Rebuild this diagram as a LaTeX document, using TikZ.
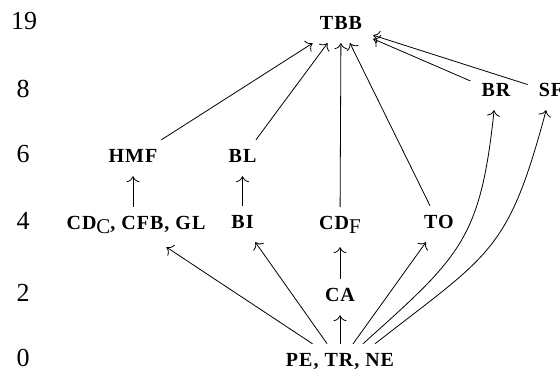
\documentclass[tikz,border=0pt]{standalone}
\usepackage{fontspec}
\setmainfont{Liberation Serif}
\newfontfamily\lblfont[LetterSpace=5]{Liberation Serif}
\usetikzlibrary{arrows.meta}
\newcommand{\subC}[1]{\raisebox{-4pt}{\fontsize{21}{21}\selectfont\mdseries #1}}
\begin{document}
\begin{tikzpicture}[x=1pt,y=1pt,
  lbl/.style={font=\fontsize{20}{20}\selectfont\lblfont\bfseries, anchor=base,
    inner xsep=11pt, inner ysep=9pt, text height=14pt, text depth=4pt},
  deep/.style={text depth=8pt},
  num/.style={font=\fontsize{26}{26}\selectfont, anchor=base, inner sep=0pt},
  arr/.style={-{To[length=6pt,width=13pt]}, line width=0.8pt}]
\useasboundingbox (0,0) rectangle (560,372);
% level numbers
\node[num] (l19) at (24,342) {19};
\node[num] (l8)  at (23,274) {8};
\node[num] (l6)  at (23,209) {6};
\node[num] (l4)  at (23,142) {4};
\node[num] (l2)  at (23,70)  {2};
\node[num] (l0)  at (23,5)   {0};
% nodes
\node[lbl] (tbb) at (341,342) {TBB};
\node[lbl] (br)  at (496,275) {BR};
\node[lbl] (sf)  at (551,275) {SF};
\node[lbl] (hmf) at (133,209) {HMF};
\node[lbl] (bl)  at (242.5,209) {BL};
\node[lbl,deep] (cdc) at (136,142) {CD\subC{C}, CFB, GL};
\node[lbl] (bi)  at (242.5,143) {BI};
\node[lbl,deep] (cdf) at (340,142) {CD\subC{F}};
\node[lbl] (to)  at (439,143) {TO};
\node[lbl] (ca)  at (340,70) {CA};
\node[lbl] (pe)  at (340,5) {PE, TR, NE};
% edges
\draw[arr] (hmf) -- (tbb);
\draw[arr] (bl) -- (tbb);
\draw[arr] (cdf) -- (tbb);
\draw[arr] (to) -- (tbb);
\draw[arr] (br) -- (tbb);
\draw[arr] (sf) -- (tbb);
\draw[arr] (cdc.north -| hmf) -- (hmf);
\draw[arr] (bi) -- (bl);
\draw[arr] (ca) -- (cdf);
\draw[arr] (pe) -- (ca);
\draw[arr] (pe) -- (cdc);
\draw[arr] (pe) -- (bi);
\draw[arr] (pe) -- (to);
\draw[arr] ([xshift=23pt]pe.north) to[out=42,in=-96,looseness=1.25] (br);
\draw[arr] ([xshift=35pt]pe.north) to[out=38,in=-105,looseness=1.3] (sf);
\end{tikzpicture}
\end{document}
